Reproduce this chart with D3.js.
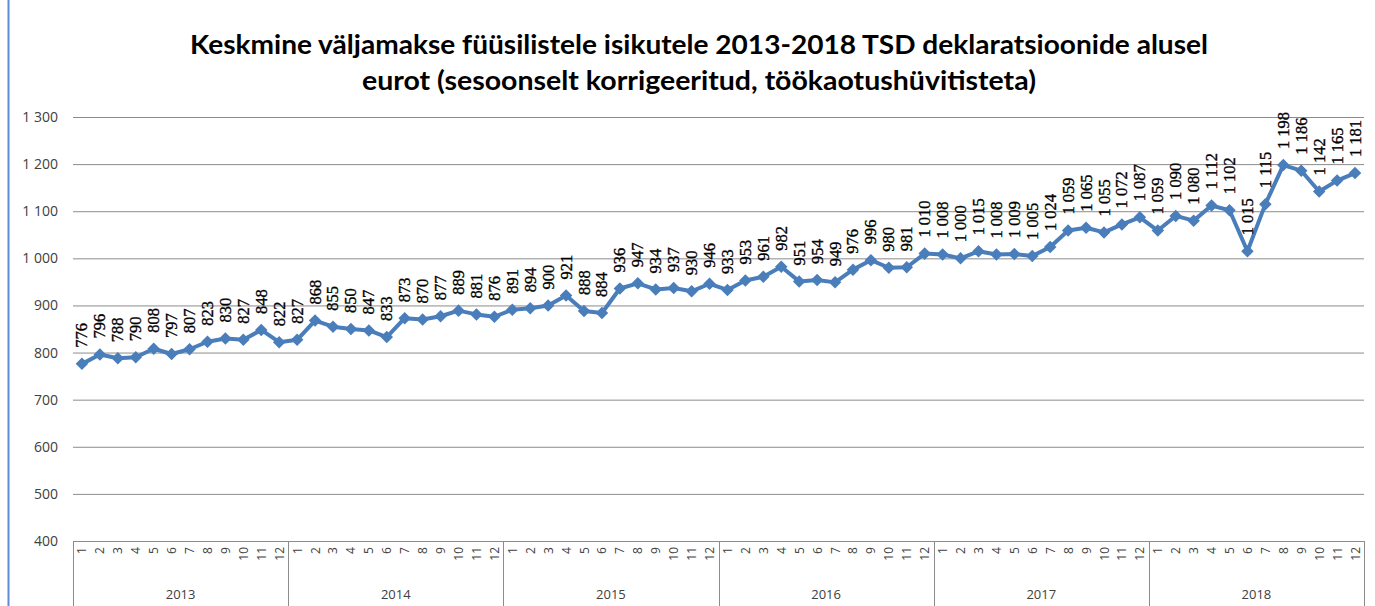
<!DOCTYPE html>
<html>
<head>
<meta charset="utf-8">
<script src="https://cdn.jsdelivr.net/npm/d3@7"></script>
<style>
  body { margin: 0; background: #fff; }
  svg { display: block; }
</style>
</head>
<body>
<svg id="canvas" width="1375" height="606"></svg>
<script>
// data
let years = ["2013", "2014", "2015", "2016", "2017", "2018"];
let months = ["1","2","3","4","5","6","7","8","9","10","11","12"];
let values2013 = [776, 796, 788, 790, 808, 797, 807, 823, 830, 827, 848, 822];
let values2014 = [827, 868, 855, 850, 847, 833, 873, 870, 877, 889, 881, 876];
let values2015 = [891, 894, 900, 921, 888, 884, 936, 947, 934, 937, 930, 946];
let values2016 = [933, 953, 961, 982, 951, 954, 949, 976, 996, 980, 981, 1010];
let values2017 = [1008, 1000, 1015, 1008, 1009, 1005, 1024, 1059, 1065, 1055, 1072, 1087];
let values2018 = [1059, 1090, 1080, 1112, 1102, 1015, 1115, 1198, 1186, 1142, 1165, 1181];
let yTicks = [400, 500, 600, 700, 800, 900, 1000, 1100, 1200, 1300];

let allValues = [values2013, values2014, values2015, values2016, values2017, values2018];
let points = [];
years.forEach((yr, i) => {
    months.forEach((m, j) => {
        points.push({ key: yr + "-" + m, year: yr, month: m, value: allValues[i][j] });
    });
});

let canvas = d3.select("#canvas");
let plotLeft = 73, plotRight = 1364, plotTop = 117, plotBottom = 541;

let locale = d3.formatLocale({ decimal: ",", thousands: " ", grouping: [3], currency: ["", ""] });
let fmt = locale.format(",d");

let x = d3.scaleBand()
    .domain(points.map(d => d.key))
    .range([plotLeft, plotRight]);
let yearScale = d3.scaleBand()
    .domain(years)
    .range([plotLeft, plotRight]);
let y = d3.scaleLinear()
    .domain([400, 1300])
    .range([plotBottom, plotTop]);

// blue frame edge on the left
canvas.append("line")
    .attr("x1", 8.5).attr("x2", 8.5)
    .attr("y1", 0).attr("y2", 606)
    .attr("stroke", "#5b8ed4")
    .attr("stroke-width", 2);

// title
let title = canvas.append("g")
    .attr("font-family", "Lato, 'Open Sans', sans-serif")
    .attr("font-weight", "bold")
    .attr("fill", "#000")
    .attr("text-anchor", "middle");
title.append("text")
    .attr("x", 699).attr("y", 54)
    .attr("font-size", 27)
    .attr("textLength", 1018)
    .attr("lengthAdjust", "spacingAndGlyphs")
    .text("Keskmine väljamakse füüsilistele isikutele 2013-2018 TSD deklaratsioonide alusel");
title.append("text")
    .attr("x", 699).attr("y", 90)
    .attr("font-size", 27)
    .attr("textLength", 674)
    .attr("lengthAdjust", "spacingAndGlyphs")
    .text("eurot (sesoonselt korrigeeritud, töökaotushüvitisteta)");

// gridlines + y labels
let yAxis = d3.axisLeft(y)
    .tickValues(yTicks)
    .tickSize(-(plotRight - plotLeft))
    .tickPadding(15)
    .tickFormat(fmt);
let yg = canvas.append("g")
    .attr("transform", "translate(" + plotLeft + ",0)")
    .call(yAxis);
yg.select(".domain").remove();
yg.selectAll(".tick line").attr("stroke", "#8c8c8c").attr("stroke-width", 1);
yg.selectAll(".tick text")
    .attr("font-family", "'Open Sans', sans-serif")
    .attr("font-size", 14)
    .attr("fill", "#404040");

// category axis box
let catAxis = canvas.append("g").attr("stroke", "#8c8c8c").attr("stroke-width", 1);
catAxis.append("line")
    .attr("x1", plotLeft).attr("x2", plotRight)
    .attr("y1", plotBottom + 0.5).attr("y2", plotBottom + 0.5);
let bounds = years.map(yr => yearScale(yr)).concat([plotRight]);
catAxis.selectAll(".sep")
    .data(bounds)
    .enter()
    .append("line")
    .attr("class", "sep")
    .attr("x1", d => Math.round(d) + 0.5)
    .attr("x2", d => Math.round(d) + 0.5)
    .attr("y1", plotBottom)
    .attr("y2", 606);

// month labels
canvas.append("g")
    .selectAll("text")
    .data(points)
    .enter()
    .append("text")
    .attr("transform", d => "translate(" + (x(d.key) + x.bandwidth() / 2 + 4.5) + "," + (plotBottom + 6) + ") rotate(-90)")
    .attr("text-anchor", "end")
    .attr("font-family", "'Open Sans', sans-serif")
    .attr("font-size", 12)
    .attr("fill", "#404040")
    .text(d => d.month);

// year labels
canvas.append("g")
    .selectAll("text")
    .data(years)
    .enter()
    .append("text")
    .attr("x", d => yearScale(d) + yearScale.bandwidth() / 2)
    .attr("y", 599)
    .attr("text-anchor", "middle")
    .attr("font-family", "'Open Sans', sans-serif")
    .attr("font-size", 13)
    .attr("fill", "#404040")
    .text(d => d);

// line
let cx = d => x(d.key) + x.bandwidth() / 2;
let line = d3.line()
    .x(cx)
    .y(d => y(d.value));
canvas.append("path")
    .datum(points)
    .attr("d", line)
    .attr("fill", "none")
    .attr("stroke", "#4a7ebb")
    .attr("stroke-width", 4)
    .attr("stroke-linejoin", "round");

// diamond markers
canvas.append("g")
    .selectAll("path")
    .data(points)
    .enter()
    .append("path")
    .attr("d", d3.symbol().type(d3.symbolDiamond2).size(100))
    .attr("transform", d => "translate(" + cx(d) + "," + y(d.value) + ")")
    .attr("fill", "#4a7ebb");

// data labels
canvas.append("g")
    .selectAll("text")
    .data(points)
    .enter()
    .append("text")
    .attr("transform", d => "translate(" + (cx(d) + 5.5) + "," + (y(d.value) - 16) + ") rotate(-90)")
    .attr("text-anchor", "start")
    .attr("font-family", "'Liberation Serif', 'Times New Roman', serif")
    .attr("font-size", 16.5)
    .attr("fill", "#000")
    .attr("stroke", "#000")
    .attr("stroke-width", 0.35)
    .text(d => fmt(d.value));
</script>
</body>
</html>
